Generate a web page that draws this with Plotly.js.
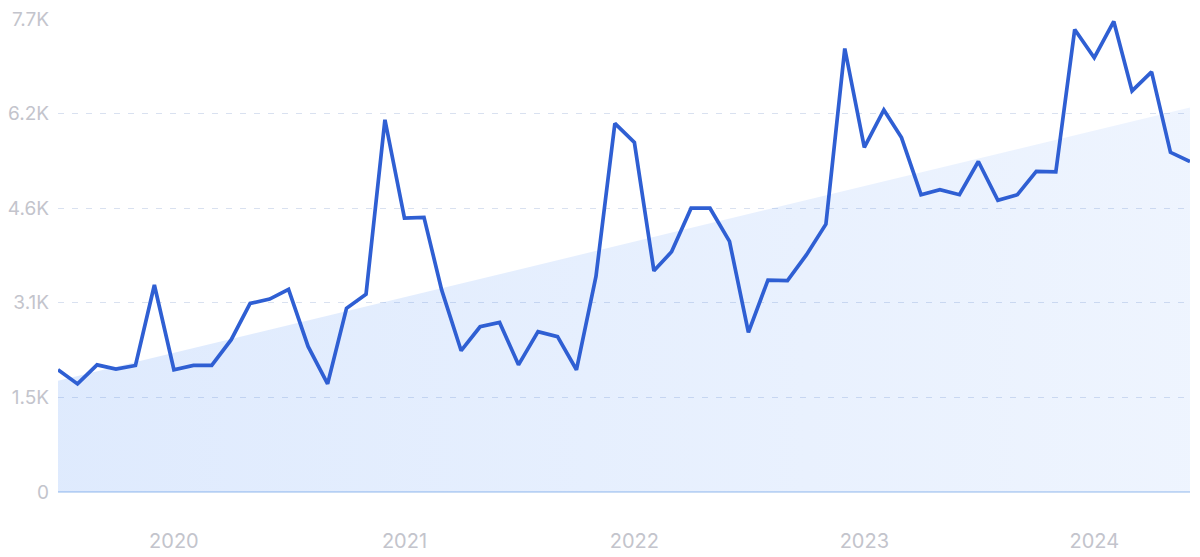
<!DOCTYPE html>
<html>
<head>
<meta charset="utf-8">
<script src="https://cdn.plot.ly/plotly-3.0.1.min.js"></script>
<style>
html,body{margin:0;padding:0;background:#fff;}
#chart{width:1200px;height:557px;}
</style>
</head>
<body>
<div id="chart"></div>
<script>
const months = [
"2019-07-01","2019-08-01","2019-09-01","2019-10-01","2019-11-01","2019-12-01",
"2020-01-01","2020-02-01","2020-03-01","2020-04-01","2020-05-01","2020-06-01",
"2020-07-01","2020-08-01","2020-09-01","2020-10-01","2020-11-01","2020-12-01",
"2021-01-01","2021-02-01","2021-03-01","2021-04-01","2021-05-01","2021-06-01",
"2021-07-01","2021-08-01","2021-09-01","2021-10-01","2021-11-01","2021-12-01",
"2022-01-01","2022-02-01","2022-03-01","2022-04-01","2022-05-01","2022-06-01",
"2022-07-01","2022-08-01","2022-09-01","2022-10-01","2022-11-01","2022-12-01",
"2023-01-01","2023-02-01","2023-03-01","2023-04-01","2023-05-01","2023-06-01",
"2023-07-01","2023-08-01","2023-09-01","2023-10-01","2023-11-01","2023-12-01",
"2024-01-01","2024-02-01","2024-03-01","2024-04-01","2024-05-01","2024-06-01"
];
const volume = [
1990,1760,2070,2000,2060,3370,
1990,2060,2060,2480,3070,3140,
3300,2370,1760,2990,3220,6060,
4460,4470,3290,2300,2690,2760,
2070,2610,2530,1990,3510,6000,
5690,3600,3910,4620,4620,4080,
2600,3450,3440,3860,4360,7220,
5610,6220,5770,4840,4920,4840,
5380,4750,4840,5220,5210,7530,
7070,7660,6530,6840,5530,5380
];
const trendX = ["2019-07-01","2024-06-01"];
const trendY = [1810,6260];
const yTickVals = [0,1540,3080,4620,6160,7700];
const yTickText = ["0","1.5K","3.1K","4.6K","6.2K","7.7K"];
const xTickVals = ["2020-01-01","2021-01-01","2022-01-01","2023-01-01","2024-01-01"];
const xTickText = ["2020","2021","2022","2023","2024"];

const traces = [
  {
    x: trendX, y: trendY, type: "scatter", mode: "lines",
    line: {width: 0, color: "rgba(0,0,0,0)"},
    fill: "tozeroy",
    fillcolor: "rgba(59,130,246,0.13)",
    fillgradient: {type: "horizontal", colorscale: [[0, "rgba(59,130,246,0.165)"], [1, "rgba(59,130,246,0.085)"]]},
    hoverinfo: "skip", showlegend: false
  },
  {
    x: months, y: volume, type: "scatter", mode: "lines",
    line: {color: "#2f5fd3", width: 3.7, shape: "linear"},
    showlegend: false, cliponaxis: false
  }
];

const tickFont = {family: "Inter, 'Noto Sans', sans-serif", size: 19, color: "#c3c4cc"};

const layout = {
  width: 1200, height: 557,
  margin: {l: 58, r: 10, t: 19, b: 65},
  paper_bgcolor: "#ffffff", plot_bgcolor: "#ffffff",
  showlegend: false,
  xaxis: {
    type: "date",
    range: ["2019-07-01", "2024-06-01"],
    tickvals: xTickVals, ticktext: xTickText,
    showgrid: false, zeroline: false, showline: false,
    ticks: "", tickfont: Object.assign({}, tickFont, {size: 20}),
    ticklabelstandoff: 35
  },
  yaxis: {
    range: [0, 7700],
    tickvals: yTickVals, ticktext: yTickText,
    showgrid: true, gridcolor: "#d9e1f0", griddash: "6px,8px", gridwidth: 1.2,
    zeroline: true, zerolinecolor: "#c9dcf5", zerolinewidth: 1.5,
    showline: false, ticks: "", tickfont: tickFont,
    ticklabelstandoff: 8
  }
};

Plotly.newPlot("chart", traces, layout, {displayModeBar: false, staticPlot: true});
</script>
</body>
</html>
